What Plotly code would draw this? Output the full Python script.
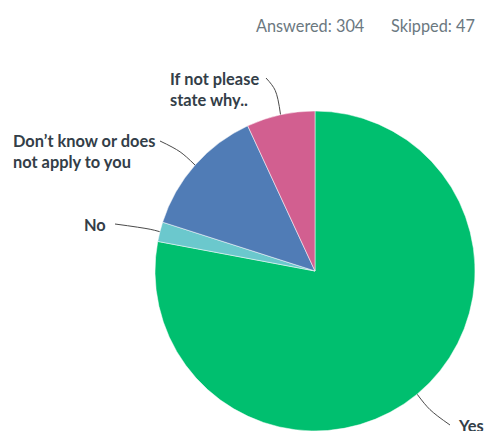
import math
import plotly.graph_objects as go

# Survey responses
categories = ["Yes", "No", "Don’t know or does not apply to you", "If not please state why.."]
label_text = ["Yes", "No", "Don’t know or does<br>not apply to you", "If not please<br>state why.."]
values = [237, 6, 40, 21]
colors = ["#00BF6F", "#6BC8CD", "#507CB6", "#D25F90"]
answered = 304
skipped = 47

W, H = 486, 431
CX, CY, R = 315, 271, 160

fig = go.Figure()

fig.add_trace(go.Pie(
    labels=categories,
    values=values,
    marker=dict(colors=colors, line=dict(color="white", width=0.5)),
    sort=False,
    direction="clockwise",
    rotation=0,
    textinfo="none",
    hoverinfo="label+value+percent",
    showlegend=False,
    domain=dict(x=[(CX - R) / W, (CX + R) / W], y=[(H - CY - R) / H, (H - CY + R) / H]),
))

# Leader lines: start on the slice edge at its mid angle, head outward, then bend to the label
label_pos = [  # (anchor x, anchor y, xanchor, leader end x, leader end y, outward length)
    (456, 425, "left", 450, 425, 20),
    (108, 224, "right", 115, 224, 10),
    (11, 151, "left", 160, 141, 20),
    (168, 89, "left", 266, 78, 25),
]
total = sum(values)
cum = 0
for v, txt, (ax, ay, xa, ex, ey, d) in zip(values, label_text, label_pos):
    mid = (cum + v / 2) / total * 2 * math.pi
    cum += v
    dx, dy = math.sin(mid), -math.cos(mid)
    p0 = (CX + R * dx, CY + R * dy)
    p1 = (p0[0] + d * dx, p0[1] + d * dy)
    fig.add_trace(go.Scatter(
        x=[p0[0], p1[0], ex], y=[p0[1], p1[1], ey],
        mode="lines", line=dict(color="#4a4a4a", width=1, shape="spline", smoothing=1),
        hoverinfo="skip", showlegend=False,
    ))
    fig.add_annotation(
        x=ax, y=ay, xref="x", yref="y", text=txt, showarrow=False,
        xanchor=xa, yanchor="middle", align="left",
        font=dict(family="Lato", size=16.4, color="#333e48", weight="bold"),
    )

fig.add_annotation(x=254, y=25, xref="x", yref="y", text=f"Answered: {answered}",
                   showarrow=False, xanchor="left", yanchor="middle",
                   font=dict(family="Lato", size=16.3, color="#6B787F"))
fig.add_annotation(x=389, y=25, xref="x", yref="y", text=f"Skipped: {skipped}",
                   showarrow=False, xanchor="left", yanchor="middle",
                   font=dict(family="Lato", size=16.3, color="#6B787F"))

fig.update_layout(
    width=W, height=H,
    margin=dict(l=0, r=0, t=0, b=0),
    paper_bgcolor="white", plot_bgcolor="white",
    xaxis=dict(range=[0, W], visible=False, fixedrange=True, domain=[0, 1]),
    yaxis=dict(range=[H, 0], visible=False, fixedrange=True, domain=[0, 1]),
)

fig.write_html("out.html", config={"displayModeBar": False})
